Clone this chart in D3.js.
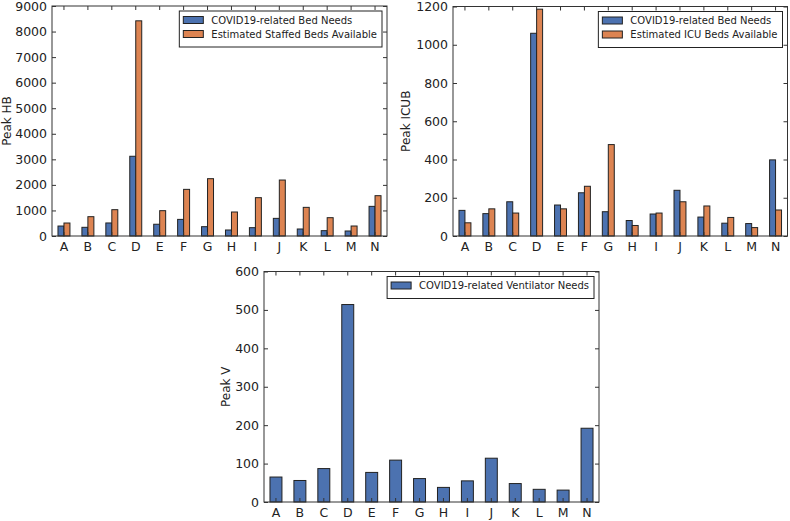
<!DOCTYPE html>
<html><head><meta charset="utf-8">
<script src="https://cdn.jsdelivr.net/npm/d3@7"></script>
<style>body{margin:0;background:#fff;}svg{display:block;font-family:"DejaVu Sans",sans-serif;}</style>
</head><body><svg id="c" width="790" height="521"></svg>
<script>
const categories = ["A","B","C","D","E","F","G","H","I","J","K","L","M","N"];
const hbNeeds    = [390,340,510,3120,460,650,365,235,326,690,274,209,196,1160];
const hbStaffed  = [508,756,1030,8420,991,1825,2243,939,1500,2190,1121,717,391,1578];
const icuNeeds   = [134,117,179,1060,162,226,127,81,115,239,99,67,65,398];
const icuBeds    = [69,142,120,1186,142,260,478,55,120,179,157,97,44,136];
const ventNeeds  = [65,56,87,514,77,109,61,38,55,114,48,33,31,192];
const hbTicks  = [0,1000,2000,3000,4000,5000,6000,7000,8000,9000];
const icuTicks = [0,200,400,600,800,1000,1200];
const vTicks   = [0,100,200,300,400,500,600];

const colors = ["#4c72b0","#dd8452"];
const svg = d3.select("#c");

function panel(cfg){
  const {l,t,r,b,series,names,ymax,ticks,ylabel,ylx} = cfg;
  const g = svg.append("g");
  const x = d3.scaleBand().domain(categories).range([l,r]).paddingInner(0.5).paddingOuter(0.25);
  const xs = d3.scaleBand().domain(d3.range(series.length)).range([0,x.bandwidth()]);
  const y = d3.scaleLinear().domain([0,ymax]).range([b,t]);

  series.forEach((s,si)=>{
    g.selectAll(null).data(s).enter().append("rect")
      .attr("x",(d,i)=>x(categories[i])+xs(si))
      .attr("y",d=>y(d))
      .attr("width",xs.bandwidth())
      .attr("height",d=>b-y(d))
      .attr("fill",colors[si])
      .attr("stroke","#222").attr("stroke-width",1);
  });

  const styleAx = sel=>{sel.select(".domain").remove();sel.selectAll("line").attr("stroke","#333");
    sel.selectAll("text").attr("fill","#222").style("font-size","12.5px").style("font-family","DejaVu Sans");};
  g.append("g").attr("transform",`translate(${l},0)`)
    .call(d3.axisLeft(y).tickValues(ticks).tickFormat(d3.format("d")).tickSize(-4).tickPadding(5)).call(styleAx);
  g.append("g").attr("transform",`translate(${r},0)`)
    .call(d3.axisRight(y).tickValues(ticks).tickSize(-4).tickFormat("")).call(styleAx);
  g.append("g").attr("transform",`translate(0,${b})`)
    .call(d3.axisBottom(x).tickSize(-4).tickPadding(6)).call(styleAx);
  g.append("g").attr("transform",`translate(0,${t})`)
    .call(d3.axisTop(x).tickSize(-4).tickFormat("")).call(styleAx);
  g.append("rect").attr("x",l).attr("y",t).attr("width",r-l).attr("height",b-t)
    .attr("fill","none").attr("stroke","#333").attr("stroke-width",1);

  g.append("text").attr("transform",`translate(${ylx},${(t+b)/2}) rotate(-90)`)
    .attr("text-anchor","middle").attr("dy","0.35em").style("font-size","12px").attr("fill","#222").text(ylabel);

  // legend
  const lg = g.append("g");
  const texts = names.map((n,i)=>lg.append("text").attr("x",0).attr("y",0).style("font-size","10px").attr("fill","#222").text(n));
  const tw = d3.max(texts,tx=>tx.node().getComputedTextLength());
  const w = 37+tw, h = 4+14*names.length+4;
  const bx = r-5-w, by = t+5;
  lg.insert("rect",":first-child").attr("x",bx).attr("y",by).attr("width",w).attr("height",h)
    .attr("fill","#fff").attr("stroke","#222").attr("stroke-width",1);
  names.forEach((n,i)=>{
    const cy = by+9+14*i;
    lg.append("rect").attr("x",bx+4).attr("y",cy-3.5).attr("width",20).attr("height",7)
      .attr("fill",colors[i]).attr("stroke","#222").attr("stroke-width",1);
    texts[i].attr("x",bx+32).attr("y",cy).attr("dy","0.35em");
  });
}

panel({l:52,t:6,r:387,b:236,series:[hbNeeds,hbStaffed],
  names:["COVID19-related Bed Needs","Estimated Staffed Beds Available"],
  ymax:9000,ticks:hbTicks,ylabel:"Peak HB",ylx:7});
panel({l:453,t:6.5,r:787.5,b:236,series:[icuNeeds,icuBeds],
  names:["COVID19-related Bed Needs","Estimated ICU Beds Available"],
  ymax:1200,ticks:icuTicks,ylabel:"Peak ICUB",ylx:406});
panel({l:264,t:271.5,r:599,b:502,series:[ventNeeds],
  names:["COVID19-related Ventilator Needs"],
  ymax:600,ticks:vTicks,ylabel:"Peak V",ylx:226});
</script></body></html>
